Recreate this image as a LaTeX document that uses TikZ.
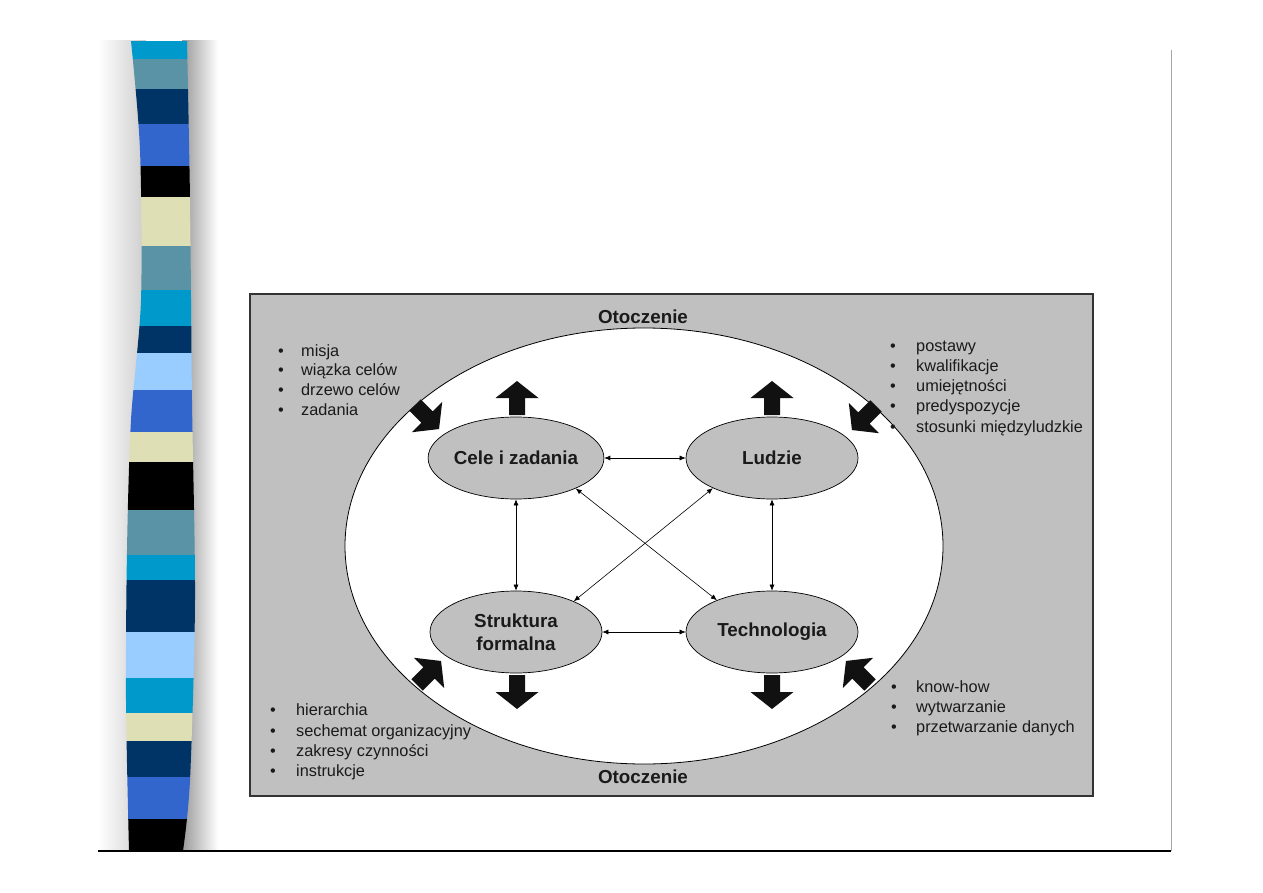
\documentclass[tikz,border=0pt]{standalone}
\usepackage{fontspec}
\setmainfont{Liberation Sans}
\usetikzlibrary{shapes.geometric,arrows.meta}
\definecolor{stCyan}{HTML}{0099CC}
\definecolor{stTeal}{HTML}{5A92A6}
\definecolor{stNavy}{HTML}{003366}
\definecolor{stRoyal}{HTML}{3366CC}
\definecolor{stBlack}{HTML}{000000}
\definecolor{stBeige}{HTML}{DFDFB6}
\definecolor{stLight}{HTML}{99CCFF}
\definecolor{envgray}{HTML}{C0C0C0}
\definecolor{textdark}{HTML}{1A1A1A}
\definecolor{arrowblack}{HTML}{111111}
\newcommand\blkarrow[3]{\fill[arrowblack, shift={(#1,#2)}, rotate=#3] (0,-8) -- (17,-8) -- (17,-21.5) -- (34,0) -- (17,21.5) -- (17,8) -- (0,8) -- cycle;}
\begin{document}
\begin{tikzpicture}[x=1pt,y=-1pt,
  oval/.style={ellipse, draw=black, line width=0.7pt, fill=envgray, minimum width=172pt, minimum height=82pt, inner sep=0pt, align=center, text=textdark, font=\fontsize{18.8}{23}\selectfont\bfseries},
  envlabel/.style={anchor=base, inner sep=0pt, text=textdark, font=\fontsize{18.8}{22}\selectfont\bfseries},
  bul/.style={anchor=base west, inner sep=0pt, text=textdark, font=\fontsize{16.3}{20}\selectfont},
  conn/.style={{Latex[length=6pt,width=5pt]}-{Latex[length=6pt,width=5pt]}, line width=0.6pt, draw=black}
]
\useasboundingbox[fill=white] (0,0) rectangle (1263,893);

% slide decoration: shadows
\shade[left color=white, right color=gray!40] (98,41) rectangle (146,851);
\shade[left color=gray!80, right color=white] (182,41) rectangle (218,851);

% striped band
\begin{scope}
\clip plot[smooth] coordinates {(131,41) (140,150) (141,300) (131,420) (127,550) (126,700) (129,851)}
  -- plot[smooth] coordinates {(183,851) (190,780) (195,600) (192,400) (190,200) (187,41)} -- cycle;
\foreach \ya/\yb/\c in {41/59/stCyan, 59/89/stTeal, 89/124/stNavy, 124/166/stRoyal, 166/197/stBlack,
  197/246/stBeige, 246/290/stTeal, 290/326/stCyan, 326/353/stNavy, 353/390/stLight, 390/432/stRoyal,
  432/462/stBeige, 462/510/stBlack, 510/555/stTeal, 555/580/stCyan, 580/632/stNavy, 632/678/stLight,
  678/713/stCyan, 713/741/stBeige, 741/777/stNavy, 777/819/stRoyal, 819/851/stBlack}
  \fill[\c] (110,\ya) rectangle (210,\yb);
\end{scope}

% slide frame lines
\draw[gray!70, line width=1pt] (1171,50) -- (1171,851);
\draw[black, line width=1.2pt] (98,851) -- (1171,851);

% diagram frame
\draw[draw=black!80, line width=1.3pt, fill=envgray] (250,294) rectangle (1093,796);
\draw[black, line width=0.8pt, fill=white] (644,546) ellipse [x radius=299, y radius=218];

% labels
\node[envlabel] (otTop) at (643,323) {Otoczenie};
\node[envlabel] (otBot) at (643,783) {Otoczenie};

% main nodes
\node[oval] (cele) at (516,458) {Cele i zadania};
\node[oval] (ludzie) at (772,458) {Ludzie};
\node[oval] (struktura) at (516,632) {Struktura\\formalna};
\node[oval] (tech) at (772,632) {Technologia};

% connectors
\draw[conn] (cele) -- (ludzie);
\draw[conn] (struktura) -- (tech);
\draw[conn] (cele) -- (struktura);
\draw[conn] (ludzie) -- (tech);
\draw[conn] (cele.-27) -- (tech.150);
\draw[conn] (ludzie.-153) -- (struktura.28);

% block arrows
\blkarrow{517}{415}{90}
\blkarrow{772}{415}{90}
\blkarrow{517}{675}{-90}
\blkarrow{772}{675}{-90}
\blkarrow{415}{405}{-45}
\blkarrow{876}{406}{-135}
\blkarrow{417}{685}{45}
\blkarrow{870}{685}{135}

% bullet lists
\node[bul] (tl1) at (278,356) {\makebox[23pt][l]{•}misja};
\node[bul] (tl2) at (278,375) {\makebox[23pt][l]{•}wiązka celów};
\node[bul] (tl3) at (278,395) {\makebox[23pt][l]{•}drzewo celów};
\node[bul] (tl4) at (278,415) {\makebox[23pt][l]{•}zadania};

\node[bul] (tr1) at (890,351) {\makebox[26pt][l]{•}postawy};
\node[bul] (tr2) at (890,371) {\makebox[26pt][l]{•}kwalifikacje};
\node[bul] (tr3) at (890,391) {\makebox[26pt][l]{•}umiejętności};
\node[bul] (tr4) at (890,411) {\makebox[26pt][l]{•}predyspozycje};
\node[bul] (tr5) at (890,432) {\makebox[26pt][l]{•}stosunki międzyludzkie};

\node[bul] (bl1) at (270,715) {\makebox[26pt][l]{•}hierarchia};
\node[bul] (bl2) at (270,736) {\makebox[26pt][l]{•}sechemat organizacyjny};
\node[bul] (bl3) at (270,756) {\makebox[26pt][l]{•}zakresy czynności};
\node[bul] (bl4) at (270,776) {\makebox[26pt][l]{•}instrukcje};

\node[bul] (br1) at (891,692) {\makebox[25pt][l]{•}know-how};
\node[bul] (br2) at (891,712) {\makebox[25pt][l]{•}wytwarzanie};
\node[bul] (br3) at (891,732) {\makebox[25pt][l]{•}przetwarzanie danych};
\end{tikzpicture}
\end{document}
